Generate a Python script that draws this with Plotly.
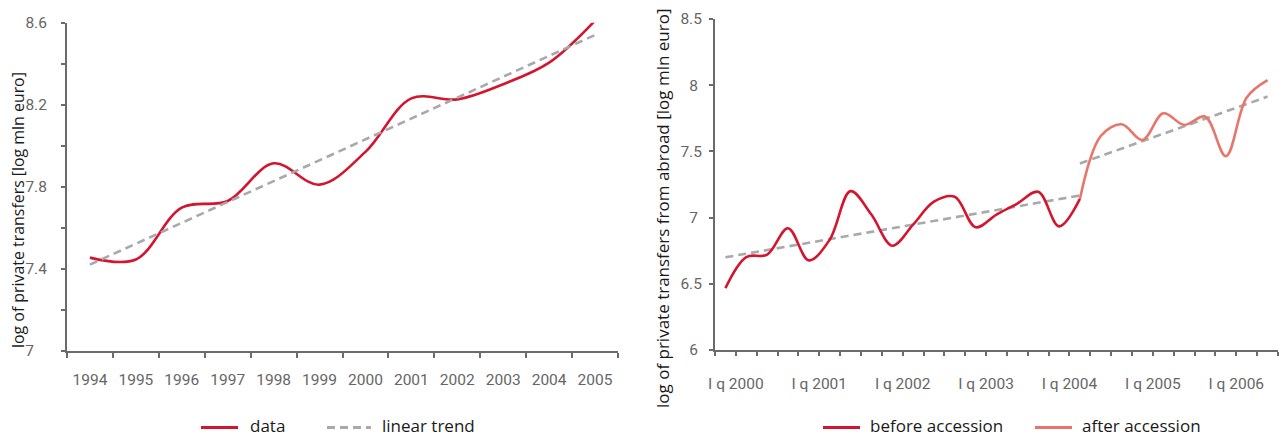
import plotly.graph_objects as go

# ---- left panel: annual series ----
years = ["1994", "1995", "1996", "1997", "1998", "1999",
         "2000", "2001", "2002", "2003", "2004", "2005"]
transfers_log = [7.454, 7.445, 7.698, 7.730, 7.914, 7.810,
                 7.970, 8.231, 8.226, 8.300, 8.405, 8.610]
trend_years = ["1994", "2005"]
trend_log = [7.42, 8.54]

left_yticks = [7.0, 7.2, 7.4, 7.6, 7.8, 8.0, 8.2, 8.4, 8.6]
left_ytext = ["7\u2008\u2007", "", "7.4", "", "7.8", "", "8.2", "", "8.6"]

# ---- right panel: quarterly series, 2000 Q1 .. 2006 Q3 ----
before_q = list(range(0, 18))
before_log = [6.467, 6.702, 6.720, 6.920, 6.677, 6.833, 7.200, 7.023, 6.788,
              6.947, 7.120, 7.157, 6.927, 7.023, 7.106, 7.195, 6.934, 7.141]
after_q = list(range(17, 27))
after_log = [7.141, 7.616, 7.705, 7.586, 7.788, 7.700, 7.763, 7.464, 7.907, 8.038]
trend_before_q = [0, 17]
trend_before_log = [6.70, 7.167]
trend_after_q = [17, 26]
trend_after_log = [7.409, 7.914]

year_labels = ["I q 2000", "I q 2001", "I q 2002", "I q 2003",
               "I q 2004", "I q 2005", "I q 2006"]
right_yticks = [6, 6.5, 7, 7.5, 8, 8.5]
right_ytext = ["6\u2005", "6.5", "7\u2005", "7.5", "8\u2005", "8.5"]

RED = "#d4152f"
SALMON = "#e8756a"
GREY = "#a9a9ab"
AXIS = "#6b6b6b"
TICKFONT = dict(family="Roboto, sans-serif", size=15.5, color="#666666")
TEXTFONT = dict(family="Open Sans, Noto Sans, sans-serif", size=17, color="#1a1a1a")
TREND_DASH = "8px,5px"

W, H = 1284, 437

fig = go.Figure()

fig.add_trace(go.Scatter(
    x=years, y=transfers_log, mode="lines", name="data",
    line=dict(color=RED, width=2.6, shape="spline", smoothing=1.0),
    xaxis="x", yaxis="y"))
fig.add_trace(go.Scatter(
    x=trend_years, y=trend_log, mode="lines", name="linear trend",
    line=dict(color=GREY, width=2.6, dash=TREND_DASH),
    xaxis="x", yaxis="y"))

fig.add_trace(go.Scatter(
    x=trend_before_q, y=trend_before_log, mode="lines", name="trend before",
    line=dict(color=GREY, width=2.6, dash=TREND_DASH),
    xaxis="x2", yaxis="y2"))
fig.add_trace(go.Scatter(
    x=trend_after_q, y=trend_after_log, mode="lines", name="trend after",
    line=dict(color=GREY, width=2.6, dash=TREND_DASH),
    xaxis="x2", yaxis="y2"))
fig.add_trace(go.Scatter(
    x=before_q, y=before_log, mode="lines", name="before accession",
    line=dict(color=RED, width=2.6, shape="spline", smoothing=1.0),
    xaxis="x2", yaxis="y2"))
fig.add_trace(go.Scatter(
    x=after_q, y=after_log, mode="lines", name="after accession",
    line=dict(color=SALMON, width=2.6, shape="spline", smoothing=1.0),
    xaxis="x2", yaxis="y2"))

# quarter boundaries carry the ticks; labels sit on the tick after each first quarter
n_q = 27
right_xticks = [i - 0.5 for i in range(n_q + 1)]
right_xtext = [""] * len(right_xticks)
for j, lab in enumerate(year_labels):
    right_xtext[1 + 4 * j] = lab

axis_common = dict(showline=True, linecolor=AXIS, linewidth=2, showgrid=False,
                   zeroline=False, ticks="outside", tickcolor=AXIS, tickwidth=2,
                   tickfont=TICKFONT, automargin=False, tickangle=0)


def px_x(v):
    return v / W


def px_y(v):
    return 1 - v / H


# legend rows under each panel: key line + label
legend_items = [
    # (key start px, key end px, label start px, colour, dash, label)
    (201, 238, 248, RED, "solid", "data"),
    (327, 371, 380, GREY, TREND_DASH, "linear trend"),
    (823, 860, 868, RED, "solid", "before accession"),
    (1035, 1072, 1080, SALMON, "solid", "after accession"),
]
KEY_Y = 427.5
LABEL_Y = 425.5

shapes = []
annotations = []
for x0, x1, xt, col, dash, label in legend_items:
    shapes.append(dict(type="line", xref="paper", yref="paper",
                       x0=px_x(x0), x1=px_x(x1),
                       y0=px_y(KEY_Y), y1=px_y(KEY_Y),
                       line=dict(color=col, width=3, dash=dash)))
    annotations.append(dict(text=label, x=px_x(xt), y=px_y(LABEL_Y),
                            xref="paper", yref="paper", xanchor="left",
                            yanchor="middle", showarrow=False, font=TEXTFONT))

annotations += [
    dict(text="log of private transfers [log mln euro]", textangle=-90,
         x=px_x(18), y=px_y(210), xref="paper", yref="paper",
         xanchor="center", yanchor="middle", showarrow=False,
         font=dict(TEXTFONT, size=15.9)),
    dict(text="log of private transfers from abroad [log mln euro]",
         textangle=-90, x=px_x(662), y=px_y(209), xref="paper", yref="paper",
         xanchor="center", yanchor="middle", showarrow=False, font=TEXTFONT),
]

fig.update_layout(
    width=W, height=H,
    margin=dict(l=0, r=0, t=0, b=0, autoexpand=False),
    paper_bgcolor="white", plot_bgcolor="white",
    showlegend=False,
    xaxis=dict(axis_common, type="category", tickson="boundaries", ticklen=5,
               range=[-0.5, len(years) - 0.5],
               domain=[px_x(67), px_x(618)], anchor="y",
               ticklabelstandoff=14),
    yaxis=dict(axis_common, range=[7, 8.6], tickvals=left_yticks,
               ticktext=left_ytext, ticklen=4,
               domain=[px_y(350.7), px_y(22.7)], anchor="x",
               ticklabelstandoff=11),
    xaxis2=dict(axis_common, range=[-0.5, 26.5], tickvals=right_xticks,
                ticktext=right_xtext, ticklen=4,
                domain=[px_x(715), px_x(1278)], anchor="y2",
                ticklabelstandoff=14),
    yaxis2=dict(axis_common, range=[6, 8.5], tickvals=right_yticks,
                ticktext=right_ytext, ticklen=4,
                domain=[px_y(350), px_y(19)], anchor="x2",
                ticklabelstandoff=4),
    shapes=shapes,
    annotations=annotations,
)

fig.write_html("out.html")
